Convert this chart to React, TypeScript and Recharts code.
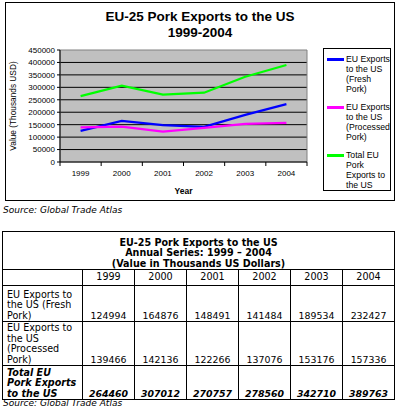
import { LineChart, Line, XAxis, YAxis, CartesianGrid, Legend, ReferenceArea } from 'recharts'

const years = ['1999', '2000', '2001', '2002', '2003', '2004']
const freshPork = [124994, 164876, 148491, 141484, 189534, 232427]
const processedPork = [139466, 142136, 122266, 137076, 153176, 157336]
const totalPork = [264460, 307012, 270757, 278560, 342710, 389763]
const yTicks = [0, 50000, 100000, 150000, 200000, 250000, 300000, 350000, 400000, 450000]

const series = [
  {
    key: 'fresh',
    name: 'EU Exports to the US (Fresh Pork)',
    color: '#0000FF',
    legendLines: ['EU Exports', 'to the US', '(Fresh', 'Pork)'],
    rowLines: ['EU Exports to', 'the US (Fresh', 'Pork)'],
    values: freshPork
  },
  {
    key: 'processed',
    name: 'EU Exports to the US (Processed Pork)',
    color: '#FF00FF',
    legendLines: ['EU Exports', 'to the US', '(Processed', 'Pork)'],
    rowLines: ['EU Exports to', 'the US', '(Processed', 'Pork)'],
    values: processedPork
  },
  {
    key: 'total',
    name: 'Total EU Pork Exports to the US',
    color: '#00FF00',
    legendLines: ['Total EU', 'Pork', 'Exports to', 'the US'],
    rowLines: ['Total EU', 'Pork Exports', 'to the US'],
    values: totalPork
  }
]

const chartTitle = ['EU-25 Pork Exports to the US', '1999-2004']
const tableTitle = ['EU-25 Pork Exports to the US', 'Annual Series: 1999 \u2013 2004', '(Value in Thousands US Dollars)']
const sourceText = 'Source: Global Trade Atlas'

const CHART_W = 388
const CHART_H = 197
const PLOT_W = 247
const STEP = PLOT_W / years.length
const rowHeights = [36, 44, 34]

const data = years.map((year, i) => ({
  year,
  fresh: freshPork[i],
  processed: processedPork[i],
  total: totalPork[i]
}))

const armFont = '"Liberation Sans", Arial, sans-serif'
const tableFont = '"DejaVu Sans", Verdana, sans-serif'

// Excel-style: labels in the middle of each category, tick marks between them
function YearTick(props: any) {
  const { x, y, payload, index } = props
  return (
    <g>
      <line x1={x - STEP / 2} y1={y} x2={x - STEP / 2} y2={y + 4} stroke="#000" />
      {index === years.length - 1 && (
        <line x1={x + STEP / 2} y1={y} x2={x + STEP / 2} y2={y + 4} stroke="#000" />
      )}
      <text x={x} y={y + 14} textAnchor="middle" fontSize={8} fill="#000" fontFamily={armFont}>
        {payload.value}
      </text>
    </g>
  )
}

function LegendBox(props: any) {
  const payload = props.payload || []
  return (
    <div
      style={{
        border: '1px solid #000',
        background: '#fff',
        boxSizing: 'border-box',
        width: 68,
        height: 143,
        padding: '5px 0 0 3px',
        fontFamily: armFont,
        fontSize: 8.7,
        lineHeight: '10px',
        color: '#000'
      }}
    >
      {payload.map((entry: any) => {
        const s = series.find(d => d.key === entry.dataKey)
        if (!s) return null
        return (
          <div key={s.key} style={{ display: 'flex', marginBottom: 8 }}>
            <div style={{ width: 17, height: 3, background: s.color, marginTop: 4, marginRight: 2, flexShrink: 0 }} />
            <div>
              {s.legendLines.map(line => (
                <div key={line}>{line}</div>
              ))}
            </div>
          </div>
        )
      })}
    </div>
  )
}

export default function App() {
  return (
    <div style={{ position: 'absolute', left: 0, top: 0, width: 397, height: 406, background: '#fff', overflow: 'hidden' }}>
      <div
        style={{
          position: 'absolute',
          left: 5,
          top: 2,
          width: CHART_W,
          height: CHART_H,
          border: '1px solid #000'
        }}
      >
        <div
          style={{
            position: 'absolute',
            left: 0,
            top: 6,
            width: CHART_W,
            textAlign: 'center',
            fontFamily: armFont,
            fontWeight: 'bold',
            fontSize: 13.5,
            lineHeight: '16px',
            color: '#000',
            zIndex: 1
          }}
        >
          {chartTitle.map(t => (
            <div key={t}>{t}</div>
          ))}
        </div>
        <LineChart
          width={CHART_W}
          height={CHART_H}
          data={data}
          margin={{ top: 47, right: 87, left: 0, bottom: 0 }}
          style={{ fontFamily: armFont }}
        >
          <CartesianGrid
            vertical={false}
            fill="#C0C0C0"
            fillOpacity={1}
            stroke="#000"
            horizontalValues={yTicks.slice(1, -1)}
          />
          <ReferenceArea y1={0} y2={450000} stroke="#808080" fill="none" fillOpacity={0} />
          <XAxis
            dataKey="year"
            scale="band"
            height={38}
            axisLine={{ stroke: '#000' }}
            tickLine={false}
            tickSize={0}
            tickMargin={0}
            interval={0}
            tick={<YearTick />}
            label={(p: any) => {
              const vb = p.viewBox
              return (
                <text
                  x={vb.x + vb.width / 2}
                  y={vb.y + 32}
                  textAnchor="middle"
                  fontSize={8.5}
                  fontWeight="bold"
                  fill="#000"
                  fontFamily={armFont}
                >
                  Year
                </text>
              )
            }}
          />
          <YAxis
            width={54}
            domain={[0, 450000]}
            ticks={yTicks}
            interval={0}
            axisLine={{ stroke: '#000' }}
            tickLine={{ stroke: '#000' }}
            tickSize={3}
            tickMargin={2}
            tick={{ fontSize: 8, fill: '#000', fontFamily: armFont }}
            label={(p: any) => {
              const vb = p.viewBox
              const cx = 10
              const cy = vb.y + vb.height / 2
              return (
                <text
                  x={cx}
                  y={cy}
                  transform={`rotate(-90, ${cx}, ${cy})`}
                  textAnchor="middle"
                  fontSize={8.3}
                  fill="#000"
                  fontFamily={armFont}
                >
                  Value (Thousands USD)
                </text>
              )
            }}
          />
          {series.map(s => (
            <Line
              key={s.key}
              type="linear"
              dataKey={s.key}
              name={s.name}
              stroke={s.color}
              strokeWidth={2.2}
              dot={false}
              activeDot={false}
              isAnimationActive={false}
            />
          ))}
          <Legend
            layout="vertical"
            align="center"
            verticalAlign="middle"
            content={<LegendBox />}
            wrapperStyle={{ left: 317, top: 45, width: 68, height: 143 }}
          />
        </LineChart>
      </div>

      <div
        style={{
          position: 'absolute',
          left: 3,
          top: 205,
          fontFamily: tableFont,
          fontStyle: 'italic',
          fontSize: 9,
          lineHeight: '11px',
          color: '#000'
        }}
      >
        {sourceText}
      </div>

      <table
        style={{
          position: 'absolute',
          left: 2,
          top: 231,
          width: 392,
          borderCollapse: 'collapse',
          tableLayout: 'fixed',
          fontFamily: tableFont,
          fontSize: 9.6,
          lineHeight: '10.5px',
          color: '#000'
        }}
      >
        <colgroup>
          <col style={{ width: 80 }} />
          {years.map(y => (
            <col key={y} style={{ width: 52 }} />
          ))}
        </colgroup>
        <tbody>
          <tr style={{ height: 38 }}>
            <td
              colSpan={7}
              style={{ border: '1px solid #000', textAlign: 'center', verticalAlign: 'bottom', fontWeight: 'bold', padding: 0 }}
            >
              {tableTitle.map(t => (
                <div key={t}>{t}</div>
              ))}
            </td>
          </tr>
          <tr style={{ height: 16 }}>
            <td style={{ border: '1px solid #000', padding: 0 }} />
            {years.map(y => (
              <td key={y} style={{ border: '1px solid #000', textAlign: 'center', padding: 0, verticalAlign: 'middle' }}>
                {y}
              </td>
            ))}
          </tr>
          {series.map((s, ri) => {
            const strong = s.key === 'total'
            const cellFont = strong ? { fontWeight: 'bold' as const, fontStyle: 'italic' as const } : {}
            return (
              <tr key={s.key} style={{ height: rowHeights[ri] }}>
                <td style={{ border: '1px solid #000', padding: '0 0 0 4px', verticalAlign: 'bottom', ...cellFont }}>
                  {s.rowLines.map(line => (
                    <div key={line}>{line}</div>
                  ))}
                </td>
                {s.values.map((v, ci) => (
                  <td
                    key={ci}
                    style={{ border: '1px solid #000', padding: 0, textAlign: 'center', verticalAlign: 'bottom', fontSize: 9.4, ...cellFont }}
                  >
                    {v}
                  </td>
                ))}
              </tr>
            )
          })}
        </tbody>
      </table>

      <div
        style={{
          position: 'absolute',
          left: 3,
          top: 398,
          fontFamily: tableFont,
          fontStyle: 'italic',
          fontSize: 9,
          lineHeight: '11px',
          color: '#000'
        }}
      >
        {sourceText}
      </div>
    </div>
  )
}
